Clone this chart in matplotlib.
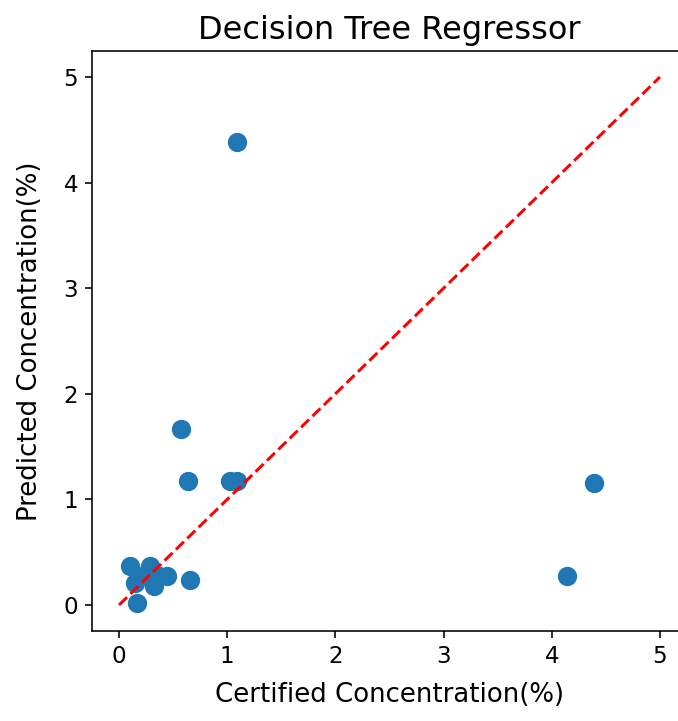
import matplotlib
matplotlib.use("Agg")
import matplotlib.pyplot as plt

plt.rcParams['font.family'] = ['DejaVu Sans']

certified = [1.09, 0.57, 0.64, 1.03, 1.09, 4.39, 4.14, 0.10, 0.29, 0.44, 0.66, 0.17, 0.15, 0.32, 0.24, 0.37]
predicted = [4.38, 1.67, 1.17, 1.17, 1.17, 1.16, 0.27, 0.37, 0.37, 0.27, 0.24, 0.02, 0.21, 0.18, 0.28, 0.27]
line_x = [0, 5]
line_y = [0, 5]

dpi = 144
fig = plt.figure(figsize=(678 / dpi, 721 / dpi), dpi=dpi)
ax = fig.add_axes([92 / 678, 89.6 / 721, 595 / 678, 580.8 / 721])
ax.scatter(certified, predicted, s=75, color="#1f77b4")
ax.plot(line_x, line_y, "r--", linewidth=1.5)
ax.set_xlim(-0.25, 5.25)
ax.set_ylim(-0.25, 5.25)
ax.tick_params(labelsize=11.5)
ax.set_xlabel("Certified Concentration(%)", fontsize=13, labelpad=7)
ax.set_ylabel("Predicted Concentration(%)", fontsize=13, labelpad=10)
ax.set_title("Decision Tree Regressor", fontsize=16)
fig.savefig("out.png", dpi=dpi)
